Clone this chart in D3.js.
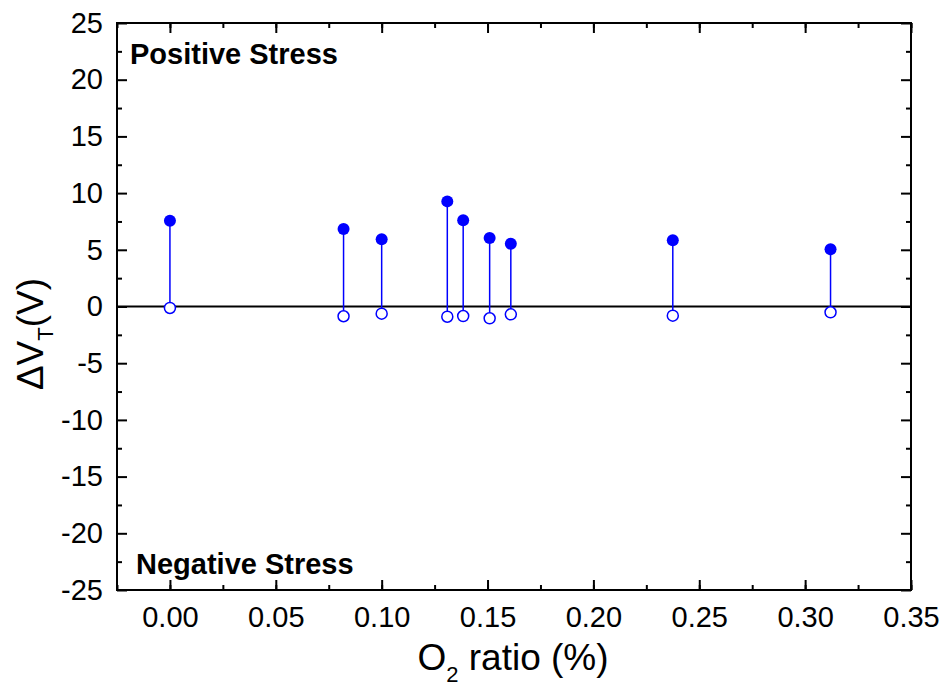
<!DOCTYPE html>
<html>
<head>
<meta charset="utf-8">
<script src="https://cdn.jsdelivr.net/npm/d3@7"></script>
<style>
  body { margin: 0; background: #fff; }
  text { font-family: "Liberation Sans", Arial, sans-serif; }
</style>
</head>
<body>
<svg id="svg" width="945" height="688"></svg>
<script>
// O2 ratio (%) for each sample
const o2Ratio = [0.000, 0.082, 0.100, 0.131, 0.1385, 0.151, 0.161, 0.2375, 0.312]
// threshold shift under positive and negative stress
const posShift = [7.57, 6.83, 5.92, 9.27, 7.60, 6.04, 5.54, 5.84, 5.04]
const negShift = [-0.13, -0.86, -0.63, -0.90, -0.84, -1.04, -0.69, -0.81, -0.51]

const xTicks = [0, 0.05, 0.10, 0.15, 0.20, 0.25, 0.30, 0.35]
const yTicks = [-25, -20, -15, -10, -5, 0, 5, 10, 15, 20, 25]

const margin = { top: 23, right: 34, bottom: 98, left: 117 }
const width = 945 - (margin.left + margin.right)
const height = 688 - (margin.top + margin.bottom)
const blue = '#0000ff'

const xscale = d3.scaleLinear()
  .domain([-0.025, 0.35])
  .range([margin.left, margin.left + width])

const yscale = d3.scaleLinear()
  .domain([-25, 25])
  .range([margin.top + height, margin.top])

const svg = d3.select('#svg')
const data = o2Ratio.map((x, i) => ({ x, pos: posShift[i], neg: negShift[i] }))

// minor ticks halfway between the majors
const xMinor = d3.range(-0.025, 0.351, 0.025)
const yMinor = d3.range(-22.5, 25, 5)

function styleAxis(g) {
  g.select('.domain').remove()
  g.selectAll('line').attr('stroke', '#000').attr('stroke-width', 2)
  g.selectAll('text')
    .attr('fill', '#000')
    .style('font-size', '29px')
}

// bottom axis with labels
svg.append('g')
  .attr('transform', `translate(0, ${margin.top + height})`)
  .call(d3.axisBottom(xscale).tickValues(xTicks).tickSize(-10)
    .tickFormat(d3.format('.2f')))
  .call(styleAxis)
  .call(g => g.selectAll('text').attr('y', 37).attr('dy', 0))
svg.append('g')
  .attr('transform', `translate(0, ${margin.top + height})`)
  .call(d3.axisBottom(xscale).tickValues(xMinor).tickSize(-5).tickFormat(''))
  .call(styleAxis)

// top axis, ticks only
svg.append('g')
  .attr('transform', `translate(0, ${margin.top})`)
  .call(d3.axisTop(xscale).tickValues(xTicks).tickSize(-10).tickFormat(''))
  .call(styleAxis)
svg.append('g')
  .attr('transform', `translate(0, ${margin.top})`)
  .call(d3.axisTop(xscale).tickValues(xMinor).tickSize(-5).tickFormat(''))
  .call(styleAxis)

// left axis with labels (plain hyphen for negatives)
svg.append('g')
  .attr('transform', `translate(${margin.left}, 0)`)
  .call(d3.axisLeft(yscale).tickValues(yTicks).tickSize(-10).tickPadding(14)
    .tickFormat(d => String(d)))
  .call(styleAxis)
svg.append('g')
  .attr('transform', `translate(${margin.left}, 0)`)
  .call(d3.axisLeft(yscale).tickValues(yMinor).tickSize(-5).tickFormat(''))
  .call(styleAxis)

// right axis, ticks only
svg.append('g')
  .attr('transform', `translate(${margin.left + width}, 0)`)
  .call(d3.axisRight(yscale).tickValues(yTicks).tickSize(-10).tickFormat(''))
  .call(styleAxis)
svg.append('g')
  .attr('transform', `translate(${margin.left + width}, 0)`)
  .call(d3.axisRight(yscale).tickValues(yMinor).tickSize(-5).tickFormat(''))
  .call(styleAxis)

// frame
svg.append('rect')
  .attr('x', margin.left)
  .attr('y', margin.top)
  .attr('width', width)
  .attr('height', height)
  .attr('fill', 'none')
  .attr('stroke', '#000')
  .attr('stroke-width', 2)

// zero line
svg.append('line')
  .attr('x1', margin.left)
  .attr('x2', margin.left + width)
  .attr('y1', yscale(0))
  .attr('y2', yscale(0))
  .attr('stroke', '#000')
  .attr('stroke-width', 2)

const marks = svg.append('g')

// stems
marks.selectAll('line.stem')
  .data(data)
  .enter()
  .append('line')
  .attr('class', 'stem')
  .attr('x1', d => xscale(d.x))
  .attr('x2', d => xscale(d.x))
  .attr('y1', d => yscale(d.pos))
  .attr('y2', d => yscale(d.neg))
  .attr('stroke', blue)
  .attr('stroke-width', 1.5)

// positive stress: filled
marks.selectAll('circle.pos')
  .data(data)
  .enter()
  .append('circle')
  .attr('class', 'pos')
  .attr('cx', d => xscale(d.x))
  .attr('cy', d => yscale(d.pos))
  .attr('r', 6)
  .attr('fill', blue)

// negative stress: open
marks.selectAll('circle.neg')
  .data(data)
  .enter()
  .append('circle')
  .attr('class', 'neg')
  .attr('cx', d => xscale(d.x))
  .attr('cy', d => yscale(d.neg))
  .attr('r', 5.5)
  .attr('fill', '#fff')
  .attr('stroke', blue)
  .attr('stroke-width', 1.5)

// annotations
svg.append('text')
  .attr('x', 130)
  .attr('y', 64)
  .style('font-size', '29px')
  .style('font-weight', 'bold')
  .text('Positive Stress')

svg.append('text')
  .attr('x', 136)
  .attr('y', 574)
  .style('font-size', '29px')
  .style('font-weight', 'bold')
  .text('Negative Stress')

// x axis title
const xTitle = svg.append('text')
  .attr('x', 513)
  .attr('y', 670)
  .attr('text-anchor', 'middle')
  .style('font-size', '37px')
xTitle.append('tspan').text('O')
xTitle.append('tspan').attr('dy', 12).style('font-size', '22px').text('2')
xTitle.append('tspan').attr('dy', -12).text(' ratio (%)')

// y axis title
const yTitle = svg.append('text')
  .attr('transform', 'translate(43, 334) rotate(-90)')
  .attr('text-anchor', 'middle')
  .style('font-size', '37px')
yTitle.append('tspan').text('\u0394V')
yTitle.append('tspan').attr('dy', 10).style('font-size', '22px').text('T')
yTitle.append('tspan').attr('dy', -10).text('(V)')
</script>
</body>
</html>
